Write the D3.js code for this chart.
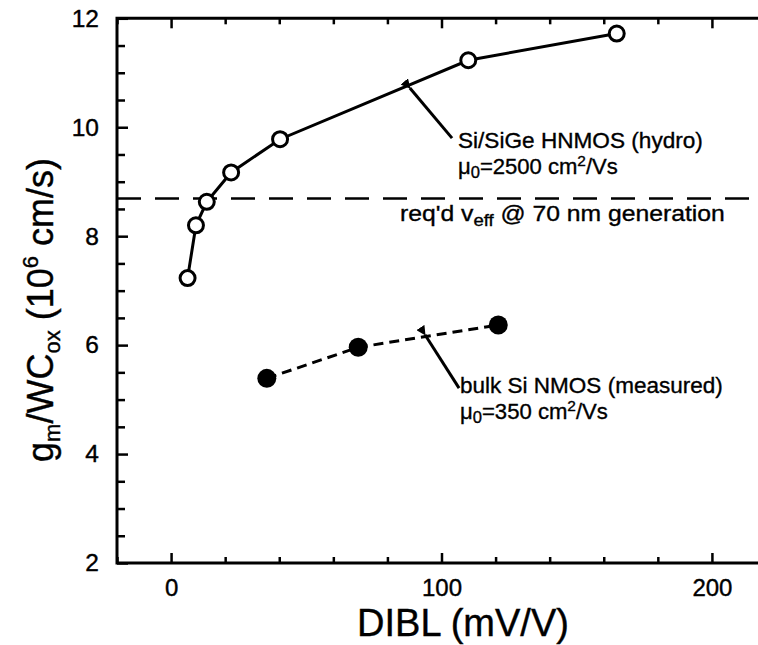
<!DOCTYPE html>
<html>
<head>
<meta charset="utf-8">
<script src="https://cdn.jsdelivr.net/npm/d3@7"></script>
<style>
  html, body { margin: 0; padding: 0; background: #fff; }
  svg { display: block; }
  text { font-family: "Liberation Sans", Arial, Helvetica, sans-serif; fill: #000; }
</style>
</head>
<body>
<svg id="chart" width="758" height="645"></svg>
<script>
// ---- data ----
const hnmosDIBL = [6.1, 9.2, 13.2, 22.2, 40.3, 109.9, 164.8];
const hnmosGm   = [7.23, 8.20, 8.63, 9.17, 9.78, 11.23, 11.72];
const bulkDIBL  = [35.4, 69.2, 121.0];
const bulkGm    = [5.39, 5.96, 6.37];
const requiredVeff = 8.69;
const xTickValues = [0, 100, 200];
const xMinorTicks = [-20, 20, 40, 60, 80, 120, 140, 160, 180, 220];
const yTickValues = [2, 4, 6, 8, 10, 12];
const yMinorTicks = [2.5, 3, 3.5, 4.5, 5, 5.5, 6.5, 7, 7.5, 8.5, 9, 9.5, 10.5, 11, 11.5];

const svg = d3.select("#chart");
const x = d3.scaleLinear().domain([-20, 220]).range([117, 766]);
const y = d3.scaleLinear().domain([2, 12]).range([563, 18.3]);

const L = x(-20), R = x(220), T = y(12), B = y(2);

// axes frame (left, top, bottom)
svg.append("path")
  .attr("d", `M${R},${T} L${L},${T} L${L},${B} L${R},${B}`)
  .attr("fill", "none").attr("stroke", "#000").attr("stroke-width", 3);

function styleTicks(g) {
  g.select(".domain").remove();
  g.selectAll(".tick line").attr("stroke", "#000").attr("stroke-width", 2.5);
  g.selectAll(".tick text").attr("font-family", null)
    .attr("stroke", "#000").attr("stroke-width", 0.4);
}

// bottom axis ticks (inward)
const gB = svg.append("g").attr("transform", `translate(0,${B})`)
  .call(d3.axisBottom(x).tickValues(xTickValues).tickSize(-10).tickFormat(d3.format("d")));
styleTicks(gB);
gB.selectAll(".tick text").attr("font-size", 24).attr("y", 16).attr("dy", "0.71em");
const gBm = svg.append("g").attr("transform", `translate(0,${B})`)
  .call(d3.axisBottom(x).tickValues(xMinorTicks).tickSize(-6).tickFormat(""));
styleTicks(gBm);

// top axis ticks (inward)
const gT = svg.append("g").attr("transform", `translate(0,${T})`)
  .call(d3.axisTop(x).tickValues(xTickValues).tickSize(-10).tickFormat(""));
styleTicks(gT);
const gTm = svg.append("g").attr("transform", `translate(0,${T})`)
  .call(d3.axisTop(x).tickValues(xMinorTicks).tickSize(-6).tickFormat(""));
styleTicks(gTm);

// left axis ticks (inward)
const gL = svg.append("g").attr("transform", `translate(${L},0)`)
  .call(d3.axisLeft(y).tickValues(yTickValues).tickSize(-11).tickFormat(d3.format("d")));
styleTicks(gL);
gL.selectAll(".tick text").attr("font-size", 24.5).attr("x", -18);
const gLm = svg.append("g").attr("transform", `translate(${L},0)`)
  .call(d3.axisLeft(y).tickValues(yMinorTicks).tickSize(-8).tickFormat(""));
styleTicks(gLm);

// required v_eff dashed line
svg.append("line")
  .attr("x1", L).attr("x2", R)
  .attr("y1", y(requiredVeff)).attr("y2", y(requiredVeff))
  .attr("stroke", "#000").attr("stroke-width", 2.5)
  .attr("stroke-dasharray", "24,14");

// series
const hnmos = hnmosDIBL.map((d, i) => [d, hnmosGm[i]]);
const bulk = bulkDIBL.map((d, i) => [d, bulkGm[i]]);
const line = d3.line().x(d => x(d[0])).y(d => y(d[1]));

svg.append("path").datum(hnmos).attr("d", line)
  .attr("fill", "none").attr("stroke", "#000").attr("stroke-width", 3);
svg.append("g").selectAll("circle").data(hnmos).join("circle")
  .attr("cx", d => x(d[0])).attr("cy", d => y(d[1])).attr("r", 7.5)
  .attr("fill", "#fff").attr("stroke", "#000").attr("stroke-width", 3);

svg.append("path").datum(bulk).attr("d", line)
  .attr("fill", "none").attr("stroke", "#000").attr("stroke-width", 3)
  .attr("stroke-dasharray", "10,6");
svg.append("g").selectAll("circle").data(bulk).join("circle")
  .attr("cx", d => x(d[0])).attr("cy", d => y(d[1])).attr("r", 9.5)
  .attr("fill", "#000");

// annotation arrows
svg.append("defs").append("marker")
  .attr("id", "ah").attr("viewBox", "0 0 10 10").attr("refX", 1).attr("refY", 5)
  .attr("markerWidth", 3.2).attr("markerHeight", 3.2).attr("orient", "auto-start-reverse")
  .append("path").attr("d", "M0,5 L10,0 L10,10 Z").attr("fill", "#000");

function arrow(x1, y1, x2, y2) {
  svg.append("line")
    .attr("x1", x(x1)).attr("y1", y(y1)).attr("x2", x(x2)).attr("y2", y(y2))
    .attr("stroke", "#000").attr("stroke-width", 3)
    .attr("marker-start", "url(#ah)");
}
arrow(88.3, 10.72, 103.9, 9.80);
arrow(93.9, 6.19, 106.5, 5.21);

// stretch a text horizontally to a target width (reference font is wider)
function fitWidth(sel, px, target) {
  const w = sel.node().getComputedTextLength();
  if (w > 0) sel.attr("transform", `translate(${px},0) scale(${target / w},1) translate(${-px},0)`);
}

// labels
const fs = 22;
function label2(px, py, line1, mu, w1, w2) {
  const t1 = svg.append("text").attr("x", px).attr("y", py).attr("font-size", fs)
    .attr("stroke", "#000").attr("stroke-width", 0.35).text(line1);
  fitWidth(t1, px, w1);
  const t2 = svg.append("text").attr("x", px).attr("y", py + 26).attr("font-size", fs)
    .attr("stroke", "#000").attr("stroke-width", 0.35);
  t2.append("tspan").text("μ");
  t2.append("tspan").attr("font-size", fs * 0.75).attr("dy", 4).text("0");
  t2.append("tspan").attr("dy", -4).text("=" + mu + " cm");
  t2.append("tspan").attr("font-size", fs * 0.7).attr("dy", -8).text("2");
  t2.append("tspan").attr("dy", 8).text("/Vs");
  fitWidth(t2, px, w2);
}
label2(458, 148, "Si/SiGe HNMOS (hydro)", "2500", 245, 160);
label2(460, 393, "bulk Si NMOS (measured)", "350", 263, 148);

const rq = svg.append("text").attr("x", 400).attr("y", 221).attr("font-size", fs)
  .attr("stroke", "#000").attr("stroke-width", 0.35);
rq.append("tspan").text("req'd v");
rq.append("tspan").attr("font-size", fs * 0.75).attr("dy", 5).text("eff");
rq.append("tspan").attr("dy", -5).text(" @ 70 nm generation");
fitWidth(rq, 400, 325);

// axis titles
svg.append("text").attr("x", 463).attr("y", 636).attr("text-anchor", "middle")
  .attr("font-size", 38).attr("stroke", "#000").attr("stroke-width", 0.4)
  .text("DIBL (mV/V)");

const yt = svg.append("text").attr("transform", "translate(53,310) rotate(-90)")
  .attr("text-anchor", "middle").attr("font-size", 36)
  .attr("stroke", "#000").attr("stroke-width", 0.4);
yt.append("tspan").text("g");
yt.append("tspan").attr("font-size", 22).attr("dy", 7).text("m");
yt.append("tspan").attr("dy", -7).text("/WC");
yt.append("tspan").attr("font-size", 22).attr("dy", 7).text("ox");
yt.append("tspan").attr("dy", -7).text(" (10");
yt.append("tspan").attr("font-size", 22).attr("dy", -15).text("6");
yt.append("tspan").attr("dy", 15).text(" cm/s)");
</script>
</body>
</html>
